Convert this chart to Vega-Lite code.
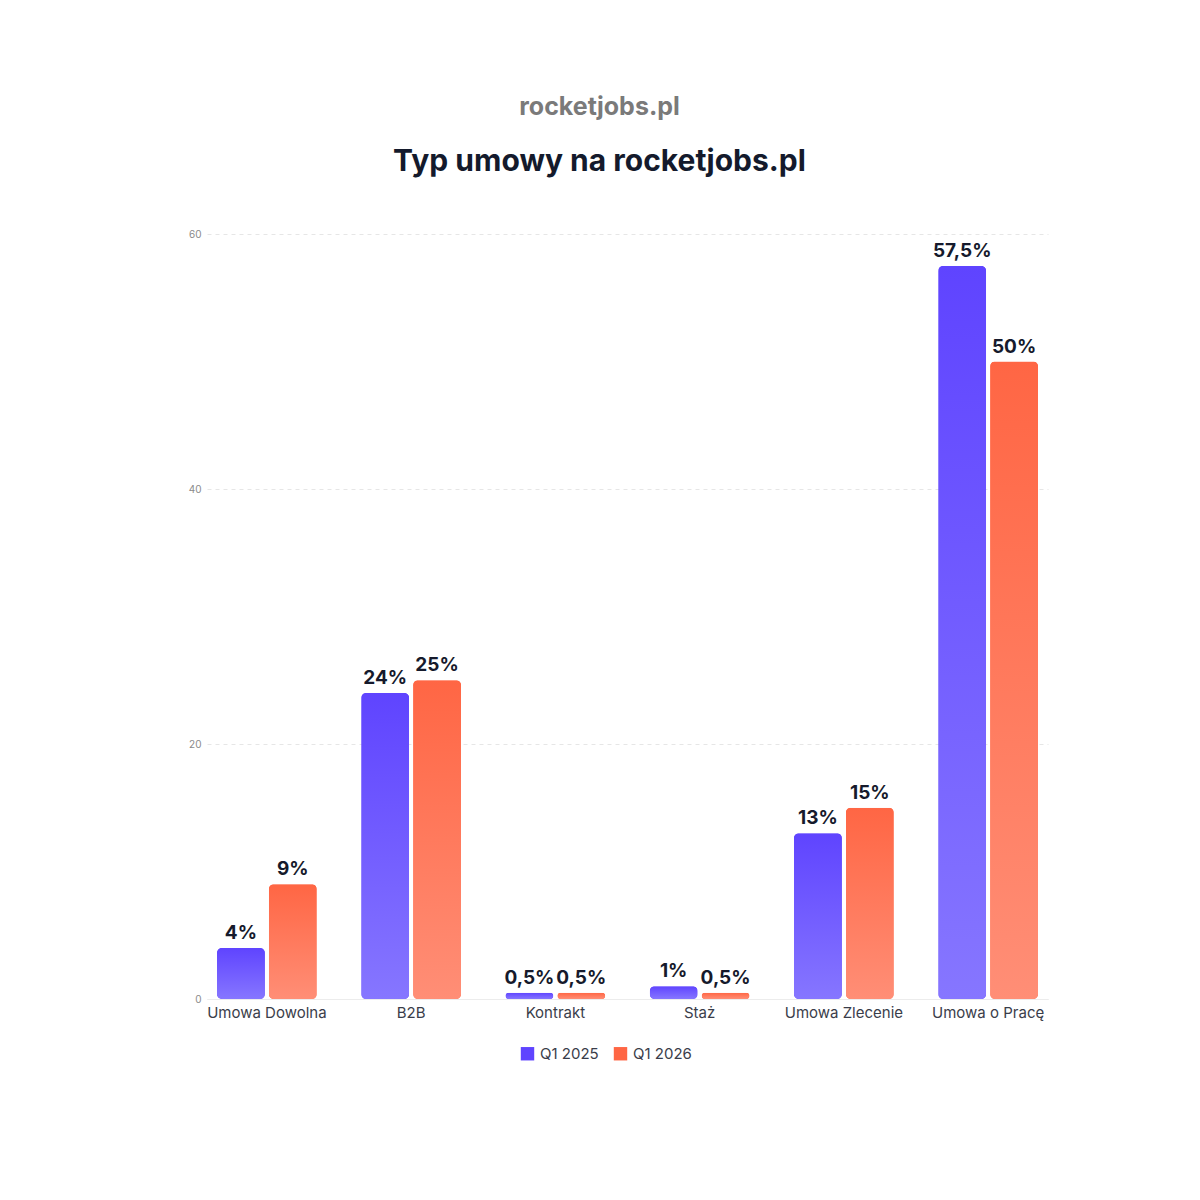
{
  "$schema": "https://vega.github.io/schema/vega-lite/v6.json",
  "autosize": {"type": "none"},
  "width": 841,
  "height": 765,
  "padding": {"left": 207, "top": 234, "right": 152, "bottom": 201},
  "background": "white",
  "title": {
    "text": "rocketjobs.pl",
    "subtitle": "Typ umowy na rocketjobs.pl",
    "anchor": "middle",
    "dx": -28,
    "offset": 52,
    "font": "Inter",
    "fontSize": 25,
    "fontWeight": "bold",
    "color": "#7a7a7a",
    "subtitleFont": "Inter",
    "subtitleFontSize": 30,
    "subtitleFontWeight": "bold",
    "subtitleColor": "#141a2c",
    "subtitlePadding": 27
  },
  "data": {
    "values": [
      {"typ": "Umowa Dowolna", "okres": "Q1 2025", "wartosc": 4, "etykieta": "4%"},
      {"typ": "Umowa Dowolna", "okres": "Q1 2026", "wartosc": 9, "etykieta": "9%"},
      {"typ": "B2B", "okres": "Q1 2025", "wartosc": 24, "etykieta": "24%"},
      {"typ": "B2B", "okres": "Q1 2026", "wartosc": 25, "etykieta": "25%"},
      {"typ": "Kontrakt", "okres": "Q1 2025", "wartosc": 0.5, "etykieta": "0,5%"},
      {"typ": "Kontrakt", "okres": "Q1 2026", "wartosc": 0.5, "etykieta": "0,5%"},
      {"typ": "Staż", "okres": "Q1 2025", "wartosc": 1, "etykieta": "1%"},
      {"typ": "Staż", "okres": "Q1 2026", "wartosc": 0.5, "etykieta": "0,5%"},
      {"typ": "Umowa Zlecenie", "okres": "Q1 2025", "wartosc": 13, "etykieta": "13%"},
      {"typ": "Umowa Zlecenie", "okres": "Q1 2026", "wartosc": 15, "etykieta": "15%"},
      {"typ": "Umowa o Pracę", "okres": "Q1 2025", "wartosc": 57.5, "etykieta": "57,5%"},
      {"typ": "Umowa o Pracę", "okres": "Q1 2026", "wartosc": 50, "etykieta": "50%"}
    ]
  },
  "encoding": {
    "x": {
      "field": "typ",
      "type": "nominal",
      "sort": null,
      "scale": {"paddingInner": 0.17, "paddingOuter": 0},
      "axis": {
        "title": null,
        "labelAngle": 0,
        "ticks": false,
        "domain": true,
        "domainColor": "#ececec",
        "labelFont": "Inter",
        "labelFontSize": 15,
        "labelColor": "#3a3d4a",
        "labelPadding": 6
      }
    },
    "xOffset": {
      "field": "okres",
      "type": "nominal",
      "scale": {"paddingInner": 0.077, "paddingOuter": 0.192}
    },
    "y": {
      "field": "wartosc",
      "type": "quantitative",
      "scale": {"domain": [0, 60]},
      "axis": {
        "title": null,
        "values": [0, 20, 40, 60],
        "domain": false,
        "ticks": false,
        "grid": true,
        "gridDash": [4, 4],
        "gridColor": "#e6e6e6",
        "labelFont": "Inter",
        "labelFontSize": 10,
        "labelColor": "#8a8a8a",
        "labelPadding": 6
      }
    }
  },
  "layer": [
    {
      "mark": {"type": "bar", "cornerRadius": 5},
      "encoding": {
        "color": {
          "field": "okres",
          "type": "nominal",
          "scale": {"domain": ["Q1 2025", "Q1 2026"], "range": ["#5f44ff", "#ff6644"]},
          "legend": {
            "title": null,
            "orient": "none",
            "direction": "horizontal",
            "legendX": 313,
            "legendY": 812,
            "symbolType": "square",
            "symbolSize": 180,
            "symbolStrokeWidth": 0,
            "labelFont": "Inter",
            "labelFontSize": 15,
            "labelColor": "#3a3d4a",
            "columnPadding": 14,
            "labelOffset": 5
          }
        }
      }
    },
    {
      "mark": {"type": "bar", "cornerRadius": 5},
      "encoding": {
        "fill": {
          "condition": {
            "test": "datum.okres === 'Q1 2025'",
            "value": {
              "gradient": "linear", "x1": 0, "y1": 0, "x2": 0, "y2": 1,
              "stops": [{"offset": 0, "color": "#5f44ff"}, {"offset": 1, "color": "#8676ff"}]
            }
          },
          "value": {
            "gradient": "linear", "x1": 0, "y1": 0, "x2": 0, "y2": 1,
            "stops": [{"offset": 0, "color": "#ff6644"}, {"offset": 1, "color": "#ff8e76"}]
          }
        }
      }
    },
    {
      "mark": {
        "type": "text",
        "baseline": "bottom",
        "dy": -5,
        "font": "Inter",
        "fontSize": 19,
        "fontWeight": "bold",
        "color": "#161a2c"
      },
      "encoding": {
        "text": {"field": "etykieta"}
      }
    }
  ],
  "config": {
    "view": {"stroke": null}
  }
}
